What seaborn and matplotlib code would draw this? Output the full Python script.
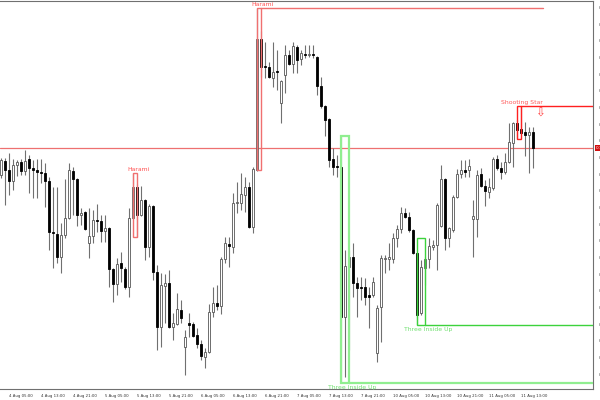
import numpy as np
import matplotlib
matplotlib.use("Agg")
import matplotlib.pyplot as plt
import matplotlib.transforms as mtransforms
from matplotlib.patches import Rectangle
import seaborn as sns

# hourly candles, prices in points (1e-5)
opens = [73498, 73540, 73513, 73480, 73528, 73537, 73510, 73546, 73519, 73513,
         73507, 73504, 73480, 73327, 73321, 73252, 73318, 73369, 73510, 73486,
         73378, 73387, 73294, 73315, 73363, 73360, 73330, 73339, 73216, 73171,
         73234, 73216, 73162, 73369, 73462, 73378, 73423, 73282, 73405, 73207,
         73042, 73165, 73174, 73042, 73051, 73093, 72982, 73054, 73051, 73018,
         72991, 72952, 72967, 73087, 73114, 73105, 73246, 73291, 73282, 73414,
         73414, 73438, 73462, 73342, 73513, 73906, 73825, 73822, 73789, 73810,
         73714, 73798, 73858, 73831, 73882, 73846, 73861, 73858, 73861, 73852,
         73765, 73705, 73666, 73546, 73525, 73522, 73072, 73222, 73252, 73174,
         73162, 73162, 73138, 73138, 72964, 73102, 73246, 73246, 73246, 73309,
         73336, 73384, 73372, 73333, 73264, 73084, 73219, 73246, 73282, 73288,
         73345, 73486, 73309, 73333, 73432, 73501, 73513, 73513, 73366, 73366,
         73501, 73465, 73447, 73459, 73546, 73519, 73507, 73537, 73594, 73654,
         73636, 73627, 73618, 73627]
highs = [73549, 73549, 73564, 73546, 73543, 73546, 73573, 73558, 73543, 73546,
         73546, 73534, 73492, 73462, 73462, 73354, 73486, 73534, 73522, 73489,
         73399, 73390, 73399, 73393, 73411, 73378, 73378, 73342, 73219, 73249,
         73267, 73222, 73399, 73504, 73471, 73465, 73426, 73411, 73408, 73228,
         73204, 73201, 73213, 73084, 73144, 73123, 73033, 73084, 73057, 73039,
         73003, 72979, 73111, 73162, 73168, 73252, 73312, 73312, 73444, 73477,
         73504, 73492, 73477, 73522, 73999, 73930, 73897, 73837, 73897, 73873,
         73783, 73888, 73873, 73897, 73888, 73873, 73888, 73888, 73888, 73855,
         73792, 73708, 73669, 73579, 73558, 73615, 73273, 73273, 73294, 73192,
         73192, 73189, 73162, 73192, 73108, 73258, 73258, 73294, 73324, 73348,
         73402, 73399, 73387, 73336, 73267, 73243, 73252, 73309, 73303, 73414,
         73528, 73489, 73342, 73438, 73516, 73543, 73543, 73546, 73423, 73513,
         73519, 73483, 73489, 73552, 73558, 73537, 73564, 73654, 73657, 73663,
         73705, 73657, 73642, 73642]
lows = [73489, 73408, 73438, 73453, 73495, 73498, 73498, 73444, 73429, 73429,
        73474, 73402, 73273, 73219, 73234, 73204, 73309, 73366, 73378, 73345,
        73348, 73333, 73249, 73294, 73327, 73297, 73297, 73162, 73117, 73138,
        73177, 73156, 73132, 73366, 73312, 73375, 73243, 73252, 73183, 72973,
        72982, 73054, 73039, 73003, 73048, 73054, 72898, 73012, 73012, 72979,
        72943, 72919, 72964, 73072, 73093, 73081, 73234, 73222, 73264, 73384,
        73393, 73387, 73339, 73324, 73510, 73792, 73789, 73789, 73762, 73753,
        73654, 73744, 73828, 73804, 73804, 73828, 73849, 73852, 73849, 73738,
        73699, 73615, 73522, 73498, 73492, 72874, 72892, 72973, 73132, 73072,
        73123, 73108, 73039, 73132, 72937, 72997, 73204, 73213, 73234, 73282,
        73324, 73369, 73327, 73261, 73048, 73078, 73168, 73219, 73273, 73213,
        73342, 73273, 73282, 73327, 73429, 73489, 73492, 73492, 73252, 73312,
        73462, 73405, 73429, 73453, 73513, 73486, 73501, 73534, 73522, 73606,
        73621, 73555, 73504, 73519]
closes = [73543, 73513, 73480, 73528, 73537, 73510, 73540, 73519, 73513, 73507,
          73504, 73480, 73327, 73324, 73252, 73318, 73369, 73513, 73486, 73378,
          73384, 73336, 73315, 73363, 73360, 73330, 73339, 73216, 73171, 73231,
          73219, 73162, 73369, 73462, 73378, 73423, 73282, 73405, 73207, 73042,
          73168, 73174, 73042, 73054, 73096, 73069, 73012, 73048, 73015, 72991,
          72955, 72967, 73087, 73114, 73105, 73246, 73294, 73285, 73414, 73417,
          73441, 73462, 73342, 73516, 73906, 73822, 73822, 73792, 73807, 73807,
          73780, 73858, 73831, 73885, 73843, 73864, 73858, 73861, 73858, 73765,
          73705, 73663, 73543, 73522, 73522, 73072, 73225, 73252, 73174, 73159,
          73159, 73132, 73132, 73177, 73099, 73249, 73249, 73252, 73309, 73336,
          73384, 73372, 73333, 73264, 73078, 73222, 73246, 73285, 73288, 73408,
          73486, 73309, 73339, 73432, 73501, 73513, 73507, 73525, 73375, 73498,
          73465, 73450, 73462, 73546, 73519, 73507, 73537, 73597, 73654, 73633,
          73624, 73618, 73627, 73579]

time_labels = ["4 Aug 05:00", "4 Aug 13:00", "4 Aug 21:00", "5 Aug 05:00", "5 Aug 13:00",
               "5 Aug 21:00", "6 Aug 05:00", "6 Aug 13:00", "6 Aug 21:00", "7 Aug 05:00",
               "7 Aug 13:00", "7 Aug 21:00", "10 Aug 05:00", "10 Aug 13:00", "10 Aug 21:00",
               "11 Aug 05:00", "11 Aug 13:00"]
time_label_idx = [2, 10, 18, 26, 34, 42, 50, 58, 66, 74, 82, 90, 98, 106, 114, 122, 130]

# candle patterns found by the indicator
pat_names = ["Harami", "Harami", "Three Inside Up", "Three Inside Up", "Shooting Star"]
pat_first = [33, 64, 85, 104, 129]
pat_last = [34, 65, 87, 106, 130]
pat_top = [73504, 73999, 73615, 73309, 73705]
pat_bottom = [73312, 73513, 72874, 73048, 73606]
pat_line_end = [None, 135.5, 148, 148, 148]

last_price = 73579
price_ticks = list(range(72900, 74001, 50))

sns.set_style("white")
plt.rcParams['font.family'] = ['DejaVu Sans']

fig = plt.figure(figsize=(6, 4), dpi=100)
ax = fig.add_axes([0.0, 0.0275, 0.9883, 0.97])

o = np.array(opens)
h = np.array(highs)
l = np.array(lows)
c = np.array(closes)
x = np.arange(len(o))
up = c >= o

ax.vlines(x, l, h, color='#707070', linewidth=0.8, zorder=2)
ax.bar(x[up], (c - o)[up], bottom=o[up], width=0.72, color='white',
       edgecolor='#555555', linewidth=0.6, zorder=3)
ax.bar(x[~up], (c - o)[~up], bottom=o[~up], width=0.72, color='black',
       edgecolor='black', linewidth=0.6, zorder=3)

# current price line
ax.axhline(last_price, color='#ee7070', linewidth=0.9, zorder=1)

for name, i0, i1, top, bot, xend in zip(pat_names, pat_first, pat_last,
                                         pat_top, pat_bottom, pat_line_end):
    if name == "Harami":
        col, txtcol, lw = '#f07070', '#ff5050', 1.0
    elif name == "Shooting Star":
        col, txtcol, lw = '#ff2020', '#ff5a5a', 1.0
    elif i0 == 85:
        col, txtcol, lw = '#90ee90', '#70e070', 1.6
    else:
        col, txtcol, lw = '#3cd23c', '#70e070', 1.0
    ax.add_patch(Rectangle((i0, bot), i1 - i0, top - bot, fill=False,
                           edgecolor=col, linewidth=lw, zorder=4))
    if name == "Three Inside Up":
        if xend is not None:
            ax.plot([i1, xend], [bot, bot], color=col, linewidth=lw, zorder=4)
        ax.text(i1 + 0.8, bot - 5, name, color=txtcol, fontsize=4.4,
                ha='center', va='top', zorder=5)
    else:
        if xend is not None:
            ax.plot([i1, xend], [top, top], color=col, linewidth=lw, zorder=4)
        ax.text(i1 + 0.3, top + 4, name, color=txtcol, fontsize=4.4,
                ha='center', va='bottom', zorder=5)

# shooting star arrow
ax.text(134.7, 73684, "\u21e9", color='#ff4040', fontsize=8.5, ha='center', va='center')

ax.set_xlim(-0.25, 148.0)
ax.set_ylim(72856, 74020)

ax.yaxis.tick_right()
ax.set_yticks(price_ticks)
ax.set_yticklabels([f"{v / 1e5:.5f}" for v in price_ticks])
ax.set_xticks(time_label_idx)
ax.set_xticklabels(time_labels)
for lbl in ax.get_xticklabels():
    lbl.set_ha('left')
ax.tick_params(axis='y', direction='out', length=3, width=0.6, color='#606060',
               labelsize=3.0, pad=0.8, labelcolor='#333333')
ax.tick_params(axis='x', direction='out', length=3, width=0.6, color='#606060',
               labelsize=2.8, pad=0.8, labelcolor='#333333')

# price tag on the axis
trans = mtransforms.blended_transform_factory(ax.transAxes, ax.transData)
ax.text(1.004, last_price, f"{last_price / 1e5:.5f}", transform=trans, color='white',
        fontsize=3, va='center', ha='left', clip_on=False,
        bbox=dict(facecolor='#d01010', edgecolor='none', pad=0.6))

sns.despine(ax=ax, left=True, top=False, right=False, bottom=False)
for side in ['top', 'right', 'bottom']:
    ax.spines[side].set_color('#707070')
    ax.spines[side].set_linewidth(0.8)

fig.savefig('out.png', dpi=100)
